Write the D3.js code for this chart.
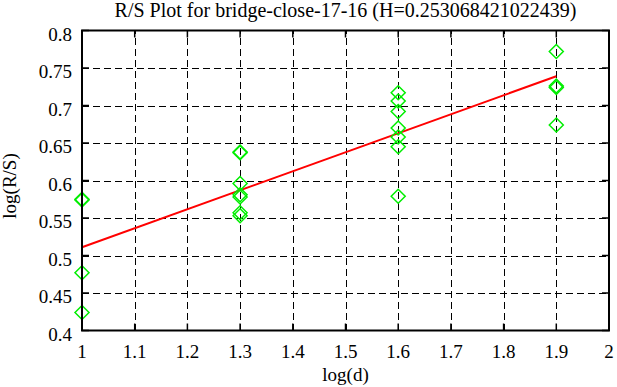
<!DOCTYPE html>
<html>
<head>
<meta charset="utf-8">
<script src="https://cdn.jsdelivr.net/npm/d3@7"></script>
<style>
  body { margin: 0; background: #fff; }
  svg { display: block; }
</style>
</head>
<body>
<div id="chart"></div>
<script>
var title = "R/S Plot for bridge-close-17-16 (H=0.253068421022439)";
var xTicks = [1, 1.1, 1.2, 1.3, 1.4, 1.5, 1.6, 1.7, 1.8, 1.9, 2];
var yTicks = [0.4, 0.45, 0.5, 0.55, 0.6, 0.65, 0.7, 0.75, 0.8];

// log(d) and log(R/S) for each window
var pointX = [1, 1, 1, 1,
              1.3, 1.3, 1.3, 1.3, 1.3, 1.3, 1.3,
              1.6, 1.6, 1.6, 1.6, 1.6, 1.6, 1.6,
              1.9, 1.9, 1.9, 1.9];
var pointY = [0.575, 0.574, 0.477, 0.424,
              0.638, 0.637, 0.596, 0.581, 0.578, 0.557, 0.553,
              0.717, 0.706, 0.692, 0.670, 0.658, 0.645, 0.579,
              0.772, 0.726, 0.724, 0.674];

// fitted line
var fitX = [1, 1.9];
var fitY = [0.511, 0.739];

var width = 617, height = 387;
var margin = {top: 30.5, right: 8, bottom: 56.5, left: 82};
var font = "'Liberation Serif', 'Times New Roman', serif";

var svg = d3.select("#chart").append("svg")
    .attr("width", width)
    .attr("height", height)
    .attr("font-family", font);

var x = d3.scaleLinear().domain([1, 2]).range([margin.left, width - margin.right]);
var y = d3.scaleLinear().domain([0.4, 0.8]).range([height - margin.bottom, margin.top]);

// grid
var grid = svg.append("g").attr("stroke", "#000").attr("stroke-width", 1)
    .attr("stroke-dasharray", "7,4").attr("shape-rendering", "crispEdges");
grid.selectAll(".gx").data(xTicks.slice(1, -1)).join("line")
    .attr("x1", d => Math.round(x(d)) + 0.5).attr("x2", d => Math.round(x(d)) + 0.5)
    .attr("y1", y(0.4)).attr("y2", y(0.8));
grid.selectAll(".gy").data(yTicks.slice(1, -1)).join("line")
    .attr("class", "gy")
    .attr("y1", d => Math.round(y(d)) + 0.5).attr("y2", d => Math.round(y(d)) + 0.5)
    .attr("x1", x(1)).attr("x2", x(2));

// inward ticks on all four sides
var tickLen = 7;
var ticks = svg.append("g").attr("stroke", "#000").attr("stroke-width", 1.5);
ticks.selectAll(".tb").data(xTicks).join("line").attr("class", "tb")
    .attr("x1", d => x(d)).attr("x2", d => x(d))
    .attr("y1", y(0.4)).attr("y2", y(0.4) - tickLen);
ticks.selectAll(".tt").data(xTicks).join("line").attr("class", "tt")
    .attr("x1", d => x(d)).attr("x2", d => x(d))
    .attr("y1", y(0.8)).attr("y2", y(0.8) + tickLen);
ticks.selectAll(".tl").data(yTicks).join("line").attr("class", "tl")
    .attr("y1", d => y(d)).attr("y2", d => y(d))
    .attr("x1", x(1)).attr("x2", x(1) + tickLen);
ticks.selectAll(".tr").data(yTicks).join("line").attr("class", "tr")
    .attr("y1", d => y(d)).attr("y2", d => y(d))
    .attr("x1", x(2)).attr("x2", x(2) - tickLen);

// fit line
var line = d3.line().x(d => x(d[0])).y(d => y(d[1]));
svg.append("path")
    .datum(d3.zip(fitX, fitY))
    .attr("d", line)
    .attr("fill", "none")
    .attr("stroke", "#ff0000")
    .attr("stroke-width", 2);

// diamonds
var r = 7;
svg.append("g").selectAll("path").data(d3.zip(pointX, pointY)).join("path")
    .attr("transform", d => `translate(${x(d[0])},${y(d[1])})`)
    .attr("d", `M0,${-r}L${r},0L0,${r}L${-r},0Z`)
    .attr("fill", "none")
    .attr("stroke", "#00ee00")
    .attr("stroke-width", 1.5);

// frame
svg.append("rect")
    .attr("x", x(1)).attr("y", y(0.8))
    .attr("width", x(2) - x(1)).attr("height", y(0.4) - y(0.8))
    .attr("fill", "none").attr("stroke", "#000").attr("stroke-width", 2);

// labels
var fs = 19;
svg.append("g").selectAll("text").data(yTicks).join("text")
    .attr("x", 72).attr("y", d => y(d) + 10)
    .attr("text-anchor", "end")
    .attr("font-size", fs)
    .text(d => d);
svg.append("g").selectAll("text").data(xTicks).join("text")
    .attr("x", d => x(d)).attr("y", 358)
    .attr("text-anchor", "middle")
    .attr("font-size", fs)
    .text(d => d);

svg.append("text")
    .attr("x", x(1.5)).attr("y", 381)
    .attr("text-anchor", "middle")
    .attr("font-size", fs)
    .text("log(d)");

svg.append("text")
    .attr("transform", "translate(16,186) rotate(-90)")
    .attr("text-anchor", "middle")
    .attr("font-size", fs)
    .text("log(R/S)");

svg.append("text")
    .attr("x", x(1.5)).attr("y", 17)
    .attr("text-anchor", "middle")
    .attr("font-size", 20)
    .text(title);
</script>
</body>
</html>
